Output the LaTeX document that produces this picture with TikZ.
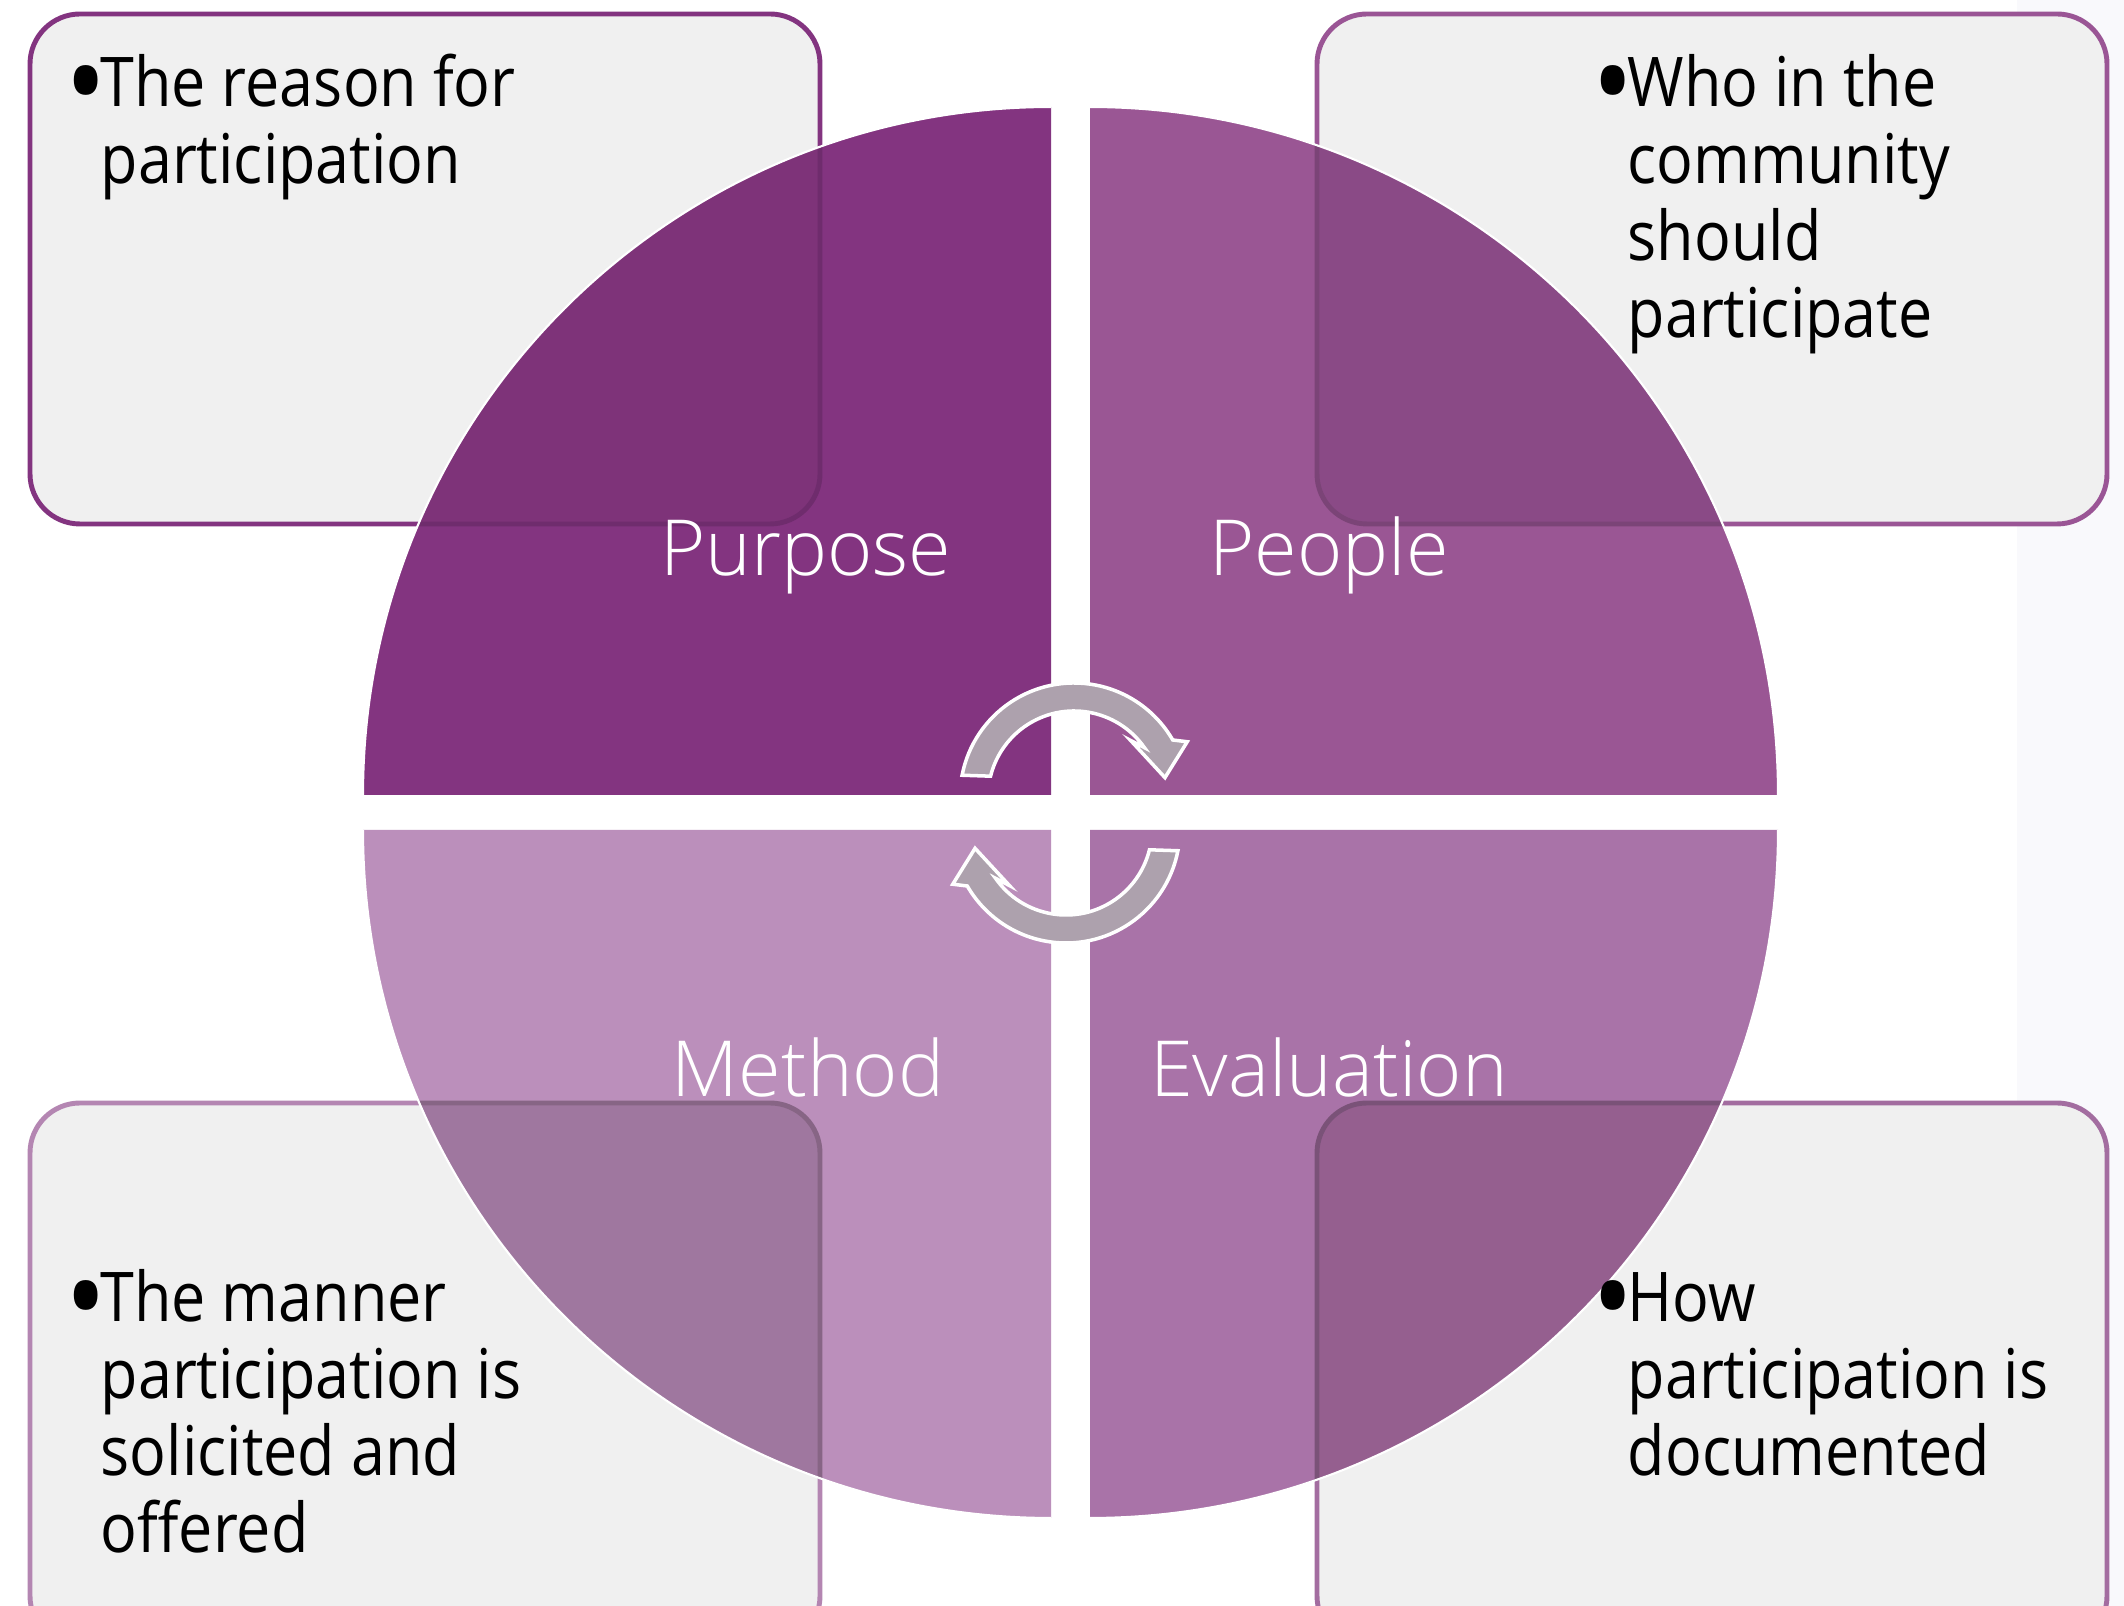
\documentclass[tikz,border=0pt]{standalone}
\usepackage{fontspec}
\usepackage{graphicx}
\setmainfont{Open Sans}[FakeStretch=0.89]
\newfontfamily\labelfont{Open Sans Light}
\definecolor{tlq}{RGB}{131,52,128}
\definecolor{trq}{RGB}{154,86,148}
\definecolor{blq}{RGB}{187,143,187}
\definecolor{brq}{RGB}{169,115,168}
\definecolor{tlo}{RGB}{126,51,121}
\definecolor{tro}{RGB}{138,74,134}
\definecolor{blo}{RGB}{159,119,159}
\definecolor{bro}{RGB}{149,95,143}
\definecolor{tlb}{RGB}{131,52,128}
\definecolor{trb}{RGB}{154,85,149}
\definecolor{blb}{RGB}{180,134,178}
\definecolor{brb}{RGB}{163,109,160}
\definecolor{boxfill}{RGB}{240,240,240}
\definecolor{arrowc}{RGB}{173,161,173}
\definecolor{stripc}{RGB}{249,249,252}
\newcommand{\bigbul}{\makebox[0.29cm][c]{\raisebox{-5.3pt}{\scalebox{1.8}{•}}}}
\begin{document}
\begin{tikzpicture}[x=0.01cm,y=0.01cm,
  cbox/.style={fill=boxfill,draw=#1,line width=1.4pt,rounded corners=0.5cm},
  obox/.style={fill=#1,rounded corners=0.5cm},
  obord/.style={draw=#1,line width=1.4pt,rounded corners=0.5cm},
  quad/.style={fill=#1},
  qedge/.style={draw=white,line width=0.6pt},
  cyc/.style={fill=arrowc,draw=white,line width=1pt},
  body/.style={anchor=base west,inner sep=0pt,text=black,font=\fontsize{19.5}{21.85}\selectfont},
  lab/.style={anchor=base,inner sep=0pt,text=white,font=\labelfont\fontsize{22}{26}\selectfont}]
\useasboundingbox (0,0) rectangle (2124,1606);
\clip (0,0) rectangle (2124,1606);
\fill[white] (0,0) rectangle (2124,1606);
\fill[stripc] (2017,0) rectangle (2124,1606);
% corner boxes
\path[cbox=tlb] (30,1082) rectangle (820,1592);
\path[cbox=trb] (1317,1082) rectangle (2107,1592);
\path[cbox=blb] (30,-40) rectangle (820,503);
\path[cbox=brb] (1317,-40) rectangle (2107,503);
% quadrants
\path[quad=tlq] (1051,811) -- ++(0,688) arc[start angle=90,end angle=180,radius=688] -- cycle;
\path[quad=trq] (1090,811) -- ++(688,0) arc[start angle=0,end angle=90,radius=688] -- cycle;
\path[quad=blq] (1051,776) -- ++(-688,0) arc[start angle=180,end angle=270,radius=688] -- cycle;
\path[quad=brq] (1090,776) -- ++(0,-688) arc[start angle=270,end angle=360,radius=688] -- cycle;
% overlaps
\begin{scope}
\clip (1051,811) -- ++(0,688) arc[start angle=90,end angle=180,radius=688] -- cycle;
\path[obox=tlo] (30,1082) rectangle (820,1592);
\path[obord=tlb!85!black] (30,1082) rectangle (820,1592);
\end{scope}
\begin{scope}
\clip (1090,811) -- ++(688,0) arc[start angle=0,end angle=90,radius=688] -- cycle;
\path[obox=tro] (1317,1082) rectangle (2107,1592);
\path[obord=trb!80!black] (1317,1082) rectangle (2107,1592);
\end{scope}
\begin{scope}
\clip (1051,776) -- ++(-688,0) arc[start angle=180,end angle=270,radius=688] -- cycle;
\path[obox=blo] (30,-40) rectangle (820,503);
\path[obord=blb!75!black] (30,-40) rectangle (820,503);
\end{scope}
\begin{scope}
\clip (1090,776) -- ++(0,-688) arc[start angle=270,end angle=360,radius=688] -- cycle;
\path[obox=bro] (1317,-40) rectangle (2107,503);
\path[obord=brb!75!black] (1317,-40) rectangle (2107,503);
\end{scope}
\path[qedge] (1051,1499) arc[start angle=90,end angle=180,radius=688];
\path[qedge] (1778,811) arc[start angle=0,end angle=90,radius=688];
\path[qedge] (363,776) arc[start angle=180,end angle=270,radius=688];
\path[qedge] (1090,88) arc[start angle=270,end angle=360,radius=688];
% cycle arrows
\begin{scope}[shift={(1074,809)}]
\path[cyc] (169:114) arc[start angle=169,end angle=30,radius=114] -- (26:126) -- (12:93) -- (45:80) -- (35:86) arc[start angle=35,end angle=166,radius=86] -- cycle;
\end{scope}
\begin{scope}[shift={(1066,777)},rotate=180]
\path[cyc] (169:114) arc[start angle=169,end angle=30,radius=114] -- (26:126) -- (12:93) -- (45:80) -- (35:86) arc[start angle=35,end angle=166,radius=86] -- cycle;
\end{scope}
% labels
\node[lab] (purpose) at (806,1030) {Purpose};
\node[lab] (people) at (1329,1030) {People};
\node[lab] (method) at (808,509) {Method};
\node[lab] (evaluation) at (1329,509) {Evaluation};
% body texts
\node[body] (tltext) at (71,1499) {\bigbul\begin{tabular}[t]{@{}l@{}}The reason for\\participation\end{tabular}};
\node[body] (trtext) at (1598,1499) {\bigbul\begin{tabular}[t]{@{}l@{}}Who in the\\community\\should\\participate\end{tabular}};
\node[body] (bltext) at (71,284) {\bigbul\begin{tabular}[t]{@{}l@{}}The manner\\participation is\\solicited and\\offered\end{tabular}};
\node[body] (brtext) at (1598,284) {\bigbul\begin{tabular}[t]{@{}l@{}}How\\participation is\\documented\end{tabular}};
\end{tikzpicture}
\end{document}
